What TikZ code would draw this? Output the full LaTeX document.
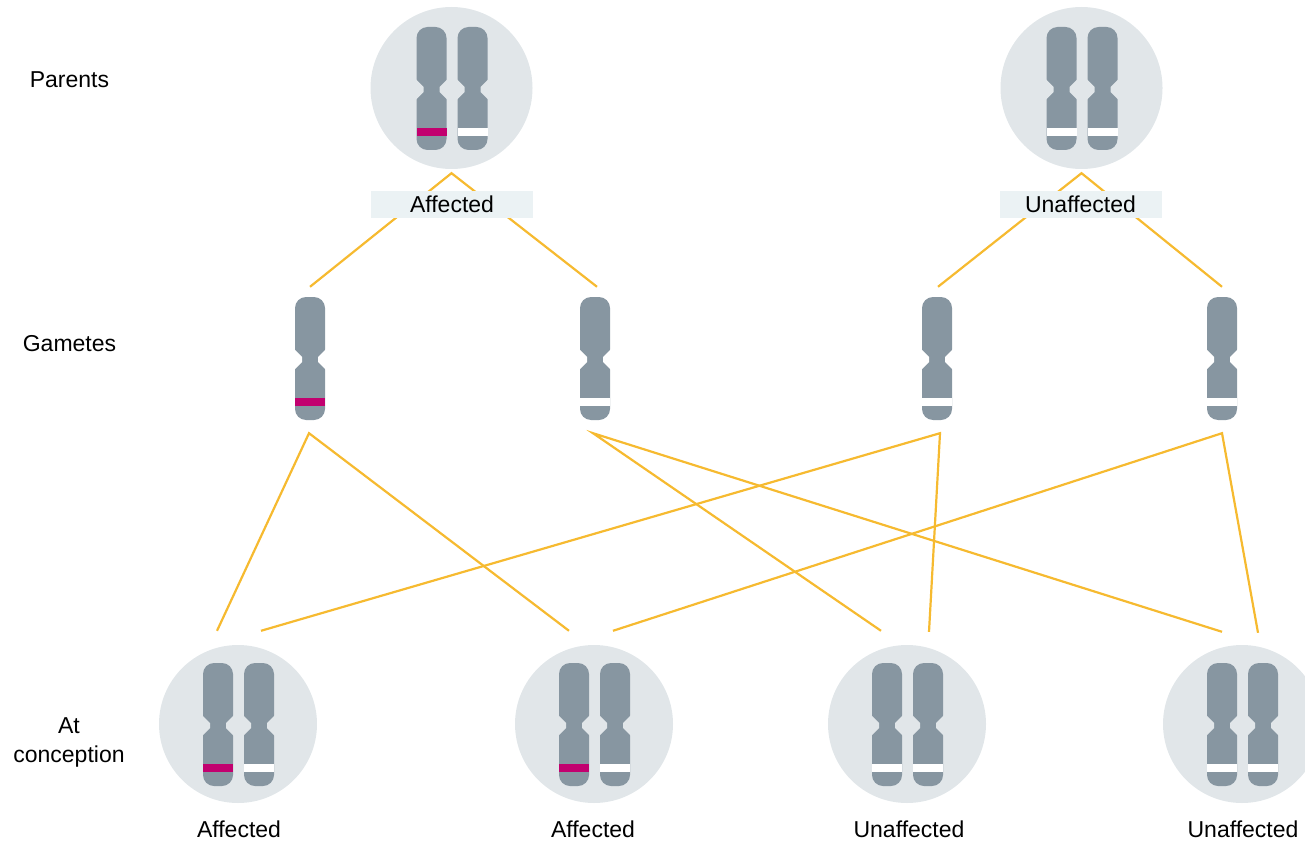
\documentclass[tikz,border=0pt]{standalone}
\usepackage{fontspec}
\setmainfont{Liberation Sans}
\usetikzlibrary{calc}

\definecolor{chromo}{HTML}{8796A1}
\definecolor{disc}{HTML}{E1E6E9}
\definecolor{tagbg}{HTML}{EBF2F4}
\definecolor{mutant}{HTML}{C2006F}
\definecolor{linkcol}{HTML}{F6BA30}

% one chromosome: #1 left x, #2 top y, #3 band colour, #4 colour around it
\newcommand\chromosome[4]{%
  \fill[chromo, rounded corners=11pt] (#1,#2) rectangle ++(30,123);
  \fill[#4] (#1-1,#2+52) -- (#1+7,#2+60) -- (#1+7,#2+65) -- (#1-1,#2+73) -- cycle;
  \fill[#4] (#1+31,#2+52) -- (#1+23,#2+60) -- (#1+23,#2+65) -- (#1+31,#2+73) -- cycle;
  \fill[#3] (#1,#2+101) rectangle (#1+30,#2+109);
}
% a pair of chromosomes inside a disc centred at (#1,#2)
\newcommand\chrompair[4]{%
  \chromosome{#1-35}{#2-61}{#3}{disc}
  \chromosome{#1+6}{#2-61}{#4}{disc}
}

\tikzset{
  txt/.style={font=\fontsize{23}{29}\selectfont, inner sep=0pt},
  bigdisc/.style={circle, fill=disc, minimum size=162pt, inner sep=0pt},
  smalldisc/.style={circle, fill=disc, minimum size=158pt, inner sep=0pt},
  gamete/.style={rectangle, minimum width=30pt, minimum height=123pt, inner sep=0pt},
  tag/.style={txt, fill=tagbg, minimum width=162pt, minimum height=27pt, text height=16.5pt, text depth=0pt},
  linkline/.style={draw=linkcol, line width=2.2pt},
}

\begin{document}
\begin{tikzpicture}[x=1pt, y=-1pt]
  \useasboundingbox (0,0) rectangle (1305,842);
  \clip (0,0) rectangle (1305,842);

  % parents
  \node[bigdisc] (P1) at (451.5,88) {};
  \node[bigdisc] (P2) at (1081.5,88) {};

  % gametes
  \node[gamete] (G1) at (310,358.5) {};
  \node[gamete] (G2) at (595,358.5) {};
  \node[gamete] (G3) at (937,358.5) {};
  \node[gamete] (G4) at (1222,358.5) {};

  % offspring
  \node[smalldisc] (C1) at (238,724) {};
  \node[smalldisc] (C2) at (594,724) {};
  \node[smalldisc] (C3) at (907,724) {};
  \node[smalldisc] (C4) at (1242,724) {};

  % parents to gametes
  \draw[linkline] ($(G1.north)+(0,-10)$) -- ($(P1.south)+(0,4)$) -- ($(G2.north)+(2,-10)$);
  \draw[linkline] ($(G3.north)+(1,-10)$) -- ($(P2.south)+(0,4)$) -- ($(G4.north)+(0,-10)$);

  % gametes to offspring
  \draw[linkline] ($(C1.north)+(-21,-14)$) -- ($(G1.south)+(-1,13)$) -- ($(C2.north)+(-25,-14)$);
  \draw[linkline] ($(C3.north)+(-26,-14)$) -- ($(G2.south)+(-2,13)$) -- ($(C4.north)+(-20,-13)$);
  \draw[linkline] ($(C1.north)+(23,-14)$) -- ($(G3.south)+(3,13)$) -- ($(C3.north)+(22,-13)$);
  \draw[linkline] ($(C2.north)+(19,-14)$) -- ($(G4.south)+(0,13)$) -- ($(C4.north)+(16,-12)$);

  % parent tags
  \node[tag] (T1) at (452,204.5) {Affected};
  \node[tag] (T2) at (1080.5,204.5) {Unaffected};

  % chromosomes
  \chrompair{451.5}{88}{mutant}{white}
  \chrompair{1081.5}{88}{white}{white}
  \chromosome{295}{297}{mutant}{white}
  \chromosome{580}{297}{white}{white}
  \chromosome{922}{297}{white}{white}
  \chromosome{1207}{297}{white}{white}
  \chrompair{238}{724}{mutant}{white}
  \chrompair{594}{724}{mutant}{white}
  \chrompair{907}{724}{white}{white}
  \chrompair{1242}{724}{white}{white}

  % row captions
  \node[txt, anchor=base] (R1) at (69.5,88) {Parents};
  \node[txt, anchor=base] (R2) at (69.5,351) {Gametes};
  \node[txt, align=center] (R3) at (69,742) {At\\conception};

  % offspring captions
  \node[txt, anchor=base] (L1) at (239,837) {Affected};
  \node[txt, anchor=base] (L2) at (593,837) {Affected};
  \node[txt, anchor=base] (L3) at (909,837) {Unaffected};
  \node[txt, anchor=base] (L4) at (1243,837) {Unaffected};
\end{tikzpicture}
\end{document}
